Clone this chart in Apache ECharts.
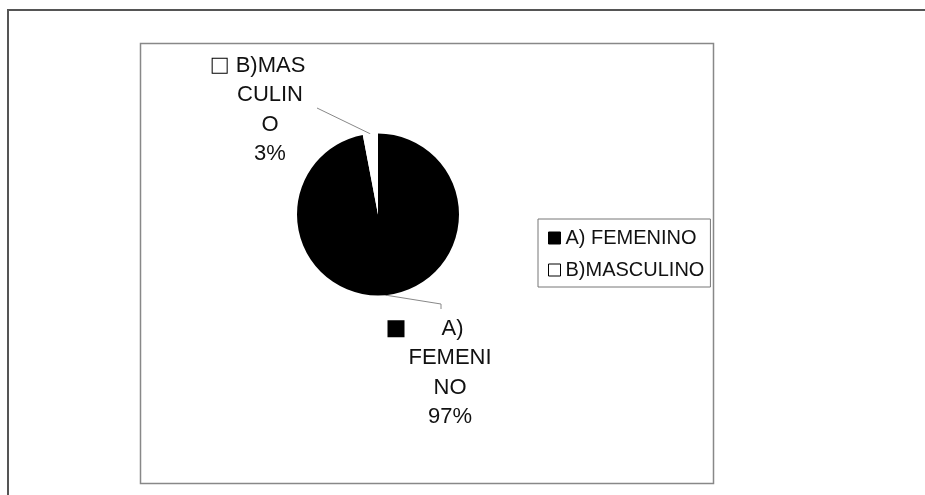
<!DOCTYPE html>
<html>
<head>
<meta charset="utf-8">
<script src="https://cdn.jsdelivr.net/npm/echarts@6/dist/echarts.min.js"></script>
<style>
  html, body { margin: 0; padding: 0; background: #fff; }
  #chart { width: 925px; height: 495px; }
</style>
</head>
<body>
<div id="chart"></div>
<script>
// ---- data ----
const categories = ['A) FEMENINO', 'B)MASCULINO'];
const values = [97, 3];
const sliceColors = ['#000000', '#ffffff'];
// wrapped label text as shown in the reference (Excel-style wrapping)
const labelWrap = {
  'A) FEMENINO': ['A)', 'FEMENI', 'NO'],
  'B)MASCULINO': ['B)MAS', 'CULIN', 'O']
};

const FONT = '"Liberation Sans", Arial, sans-serif';
const chart = echarts.init(document.getElementById('chart'), null, { renderer: 'canvas' });

// label anchor placement (center x, top y) per slice
const labelPlace = [
  { x: 450, y: 314 },
  { x: 270, y: 51 }
];

const option = {
  animation: false,
  backgroundColor: '#ffffff',
  graphic: [
    { type: 'rect', silent: true, z: -10,
      shape: { x: 8, y: 10, width: 1000, height: 600 },
      style: { fill: 'none', stroke: '#555', lineWidth: 2 } },
    { type: 'rect', silent: true, z: -10,
      shape: { x: 140.5, y: 43.5, width: 573, height: 440 },
      style: { fill: 'none', stroke: '#888', lineWidth: 1.5 } }
  ],
  legend: {
    orient: 'vertical',
    left: 538,
    top: 219,
    padding: [9, 6, 7, 10],
    itemGap: 12,
    itemWidth: 12,
    itemHeight: 12,
    icon: 'rect',
    selectedMode: false,
    borderColor: '#777',
    borderWidth: 1,
    textStyle: { fontFamily: FONT, fontSize: 20, color: '#111', lineHeight: 20 },
    data: [
      { name: categories[0], itemStyle: { color: '#000', borderColor: '#000', borderWidth: 1 } },
      { name: categories[1], itemStyle: { color: '#fff', borderColor: '#000', borderWidth: 1 } }
    ]
  },
  series: [{
    type: 'pie',
    center: [378, 214.5],
    radius: 81,
    startAngle: 90,
    clockwise: true,
    avoidLabelOverlap: false,
    itemStyle: { borderWidth: 0 },
    emphasis: { disabled: true },
    data: categories.map((c, i) => ({
      name: c, value: values[i], itemStyle: { color: sliceColors[i] }
    })),
    label: {
      show: true,
      position: 'outside',
      alignTo: 'none',
      fontFamily: FONT,
      fontSize: 22,
      color: '#111',
      lineHeight: 29.5,
      align: 'center',
      formatter: (p) => {
        const lines = labelWrap[p.name];
        const k = p.dataIndex === 0 ? 'F' : 'M';
        return '{mk' + k + '|}{g' + k + '|}{t|' + lines[0] + '}{p' + k + '|}\n' +
          lines.slice(1).map(s => '{t|' + s + '}').join('\n') +
          '\n{t|' + Math.round(p.percent) + '%}';
      },
      rich: {
        t: { fontFamily: FONT, fontSize: 22, color: '#111', lineHeight: 29.5 },
        mkF: { width: 15, height: 15, backgroundColor: '#000', borderColor: '#000', borderWidth: 1 },
        mkM: { width: 14, height: 14, backgroundColor: '#fff', borderColor: '#000', borderWidth: 1 },
        gF: { width: 38 },
        gM: { width: 9 },
        pF: { width: 48 },
        pM: { width: 22 }
      }
    },
    labelLine: {
      show: true,
      smooth: false,
      lineStyle: { color: '#888', width: 1 }
    },
    labelLayout: (p) => {
      const pl = labelPlace[p.dataIndex];
      const start = p.labelLinePoints ? p.labelLinePoints[0] : [pl.x, pl.y];
      let pts;
      if (p.dataIndex === 0) {
        pts = [start, [pl.x - 9, pl.y - 10], [pl.x - 9, pl.y - 5]];
      } else {
        pts = [start, [pl.x + 47, pl.y + 57], [pl.x + 47, pl.y + 57]];
      }
      return { x: pl.x, y: pl.y, align: 'center', verticalAlign: 'top', labelLinePoints: pts };
    }
  }]
};

chart.setOption(option);
</script>
</body>
</html>
